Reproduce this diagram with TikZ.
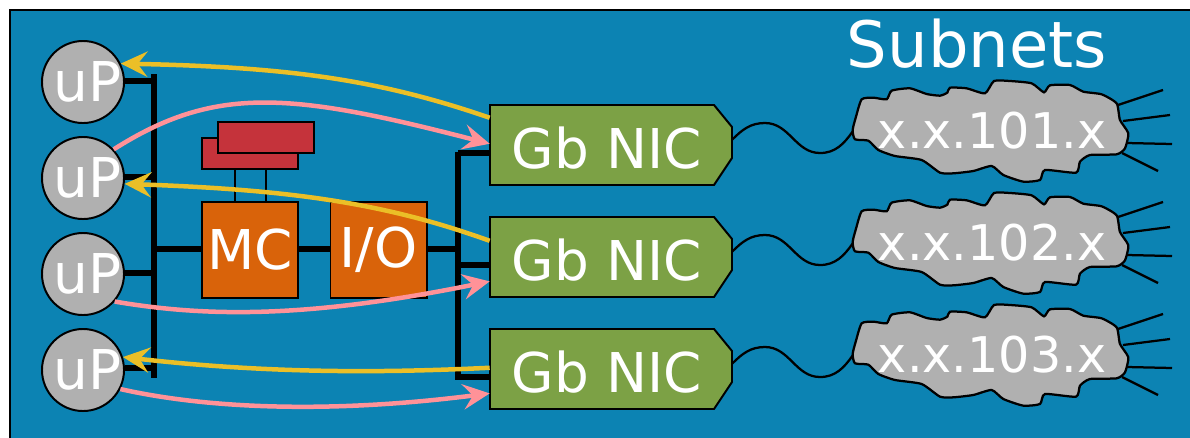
\documentclass[tikz,border=0pt]{standalone}
\usepackage{fontspec}
\setmainfont{DejaVu Sans}
\usetikzlibrary{arrows.meta}

\definecolor{panelblue}{HTML}{0C83B3}
\definecolor{chipgray}{HTML}{B0B0B0}
\definecolor{chiporange}{HTML}{D9630A}
\definecolor{memred}{HTML}{C5333B}
\definecolor{nicgreen}{HTML}{7CA145}
\definecolor{flowyellow}{HTML}{EBBF27}
\definecolor{flowpink}{HTML}{FF9298}

\tikzset{
	upnode/.style={circle, draw=black, line width=1.4pt, fill=chipgray, text=white, minimum size=2.05cm, inner sep=0pt, font=\fontsize{39}{42}\selectfont},
	chipbox/.style={rectangle, draw=black, line width=1.4pt, fill=chiporange, text=white, minimum size=2.4cm, inner sep=0pt, font=\fontsize{39}{42}\selectfont},
	membox/.style={rectangle, draw=black, line width=1.4pt, fill=memred, minimum width=2.4cm, minimum height=0.78cm, inner sep=0pt},
	nicshape/.style={draw=black, line width=1.4pt, fill=nicgreen},
	niclabel/.style={rectangle, text=white, minimum width=6.05cm, minimum height=2cm, inner sep=0pt, font=\fontsize{39}{42}\selectfont},
	netlabel/.style={text=white, inner sep=0pt, font=\fontsize{35}{38}\selectfont},
	busline/.style={line width=4pt, line cap=rect},
	stubline/.style={line width=3.6pt},
	memline/.style={line width=1.5pt},
	wireline/.style={line width=1.6pt},
	yellowflow/.style={draw=flowyellow, line width=3.2pt, -{Stealth[length=19pt, width=18pt, inset=7pt]}},
	pinkflow/.style={draw=flowpink, line width=3.2pt, -{Stealth[length=19pt, width=18pt, inset=7pt]}}
}

% one row of the right side: NIC, wire and cloud
\newcommand{\subnetrow}[3]{
	\begin{scope}[shift={(0,#2)}]
		\draw[nicshape] (490,105) -- (714,105) -- (732,127) -- (732,158) -- (714,185) -- (490,185) -- cycle;
		\node[niclabel] (nic#1) at (611,148) {Gb NIC\kern6pt};
		\coordinate (crest#1) at (765,123);
		\coordinate (trough#1) at (820,153);
		\coordinate (edge#1) at (853,131);
		\draw[wireline] (nic#1.4) to[out=45, in=180] (crest#1) to[out=0, in=180] (trough#1) to[out=0, in=-125] (edge#1);
		\draw[wireline] (1118,105) -- (1163,90);
		\draw[wireline] (1123,121) -- (1170,115);
		\draw[wireline] (1127,143) -- (1172,144);
		\draw[wireline] (1122,153) -- (1158,171);
		\begin{scope}[shift={(840,70)}, scale=0.3333]
			\draw[wireline, fill=chipgray] plot[smooth cycle, tension=0.35] coordinates {(38,180) (48,140) (65,88) (100,83) (140,88) (155,62) (210,55) (260,72) (300,77) (322,68) (330,53) (380,55) (435,70) (462,33) (510,33) (575,40) (612,67) (630,46) (690,45) (730,65) (785,73) (830,100) (840,150) (865,190) (855,235) (830,253) (750,255) (720,275) (708,308) (615,300) (600,330) (550,335) (490,315) (455,288) (400,303) (340,310) (300,308) (245,270) (165,258) (115,240) (85,212) (45,208)};
		\end{scope}
		\node[netlabel] (net#1) at (992,131) {x.x.#3.x};
	\end{scope}
}

\begin{document}
\begin{tikzpicture}[x=0.025cm, y=-0.025cm]
		\useasboundingbox (0,0) rectangle (1190,437);
		\draw [fill=panelblue, draw=black, line width=1pt] (10,10) rectangle (1195,442);
		\node [text=white, inner sep=0pt, font=\fontsize{45.5}{48}\selectfont] (title) at (977,44) {Subnets};

		% processors and the two buses
		\node[upnode] (up1) at (83,82) {\makebox[0pt]{\hspace{6pt}uP}};
		\node[upnode] (up2) at (83,178) {\makebox[0pt]{\hspace{6pt}uP}};
		\node[upnode] (up3) at (83,274) {\makebox[0pt]{\hspace{6pt}uP}};
		\node[upnode] (up4) at (83,370) {\makebox[0pt]{\hspace{6pt}uP}};
		\coordinate (busa) at (154,77);
		\coordinate (busb) at (154,375);
		\coordinate (busc) at (458,155);
		\coordinate (busd) at (458,377);
		\draw[busline] (busa) -- (busb);
		\draw[busline] (busc) -- (busd);
		\draw[stubline] (up1.east |- 0,81) -- (154,81);
		\draw[stubline] (up2.east |- 0,177) -- (154,177);
		\draw[stubline] (up3.east |- 0,273) -- (154,273);
		\draw[stubline] (up4.east |- 0,368) -- (154,368);

		% memory controller and i/o
		\node[membox] (memb) at (250,153.5) {};
		\node[membox] (mema) at (266,137.5) {};
		\node[chipbox] (mc) at (250,250) {MC};
		\node[chipbox] (io) at (378.5,250) {I/O};
		\draw[memline] (235,169) -- (235,202);
		\draw[memline] (266,169) -- (266,202);
		\draw[stubline] (154,249) -- (mc.west |- 0,249);
		\draw[stubline] (mc.east |- 0,249) -- (io.west |- 0,249);
		\draw[stubline] (io.east |- 0,249) -- (458,249);

		\subnetrow{1}{0}{101}
		\subnetrow{2}{112}{102}
		\subnetrow{3}{224}{103}
		\draw[stubline] (458,153) -- (nic1.west |- 0,153);
		\draw[stubline] (458,265) -- (nic2.west |- 0,265);
		\draw[stubline] (458,377) -- (nic3.west |- 0,377);

		% traffic arrows
		\draw[yellowflow] (nic1.166) .. controls (380,80) and (290,67) .. (up1.26);
		\draw[pinkflow] (up2.43) .. controls (215,85) and (290,92) .. (nic1.178);
		\draw[yellowflow] (nic2.171) .. controls (390,205) and (300,190) .. (up2.-8);
		\draw[pinkflow] (up3.-41) .. controls (200,316) and (300,320) .. (nic2.190);
		\draw[yellowflow] (nic3.178) .. controls (400,372) and (280,375) .. (up4.18);
		\draw[pinkflow] (up4.-27) .. controls (200,407) and (320,415) .. (nic3.190);
		\end{tikzpicture}
\end{document}
